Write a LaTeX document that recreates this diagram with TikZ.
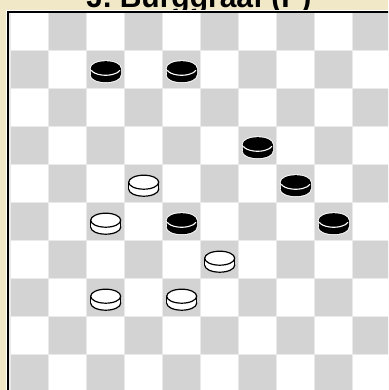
\documentclass[tikz,border=0pt]{standalone}
\usepackage{fontspec}
\setmainfont{Liberation Sans}
\definecolor{bgcream}{RGB}{240,232,198}
\definecolor{sqdark}{RGB}{211,211,211}
\definecolor{gridln}{RGB}{234,234,234}
\tikzset{
  sqlight/.style={fill=white},
  sqgray/.style={fill=sqdark},
  wpiece/.pic={
    \filldraw[fill=white,draw=black,line width=1.2] (0,5.5) ellipse[x radius=15,y radius=7];
    \fill[white] (-15,-1.5) rectangle (15,5.5);
    \draw[black,line width=1.2] (-15,-1.5) -- (-15,5.5) (15,-1.5) -- (15,5.5);
    \filldraw[fill=white,draw=black,line width=1.2] (0,-1.5) ellipse[x radius=15,y radius=7];
  },
  bpiece/.pic={
    \draw[white,line width=1.8] (0,5.5) ellipse[x radius=15,y radius=7] (0,-1.5) ellipse[x radius=15,y radius=7];
    \fill[black] (0,5.5) ellipse[x radius=15,y radius=7];
    \fill[black] (-15,-1.5) rectangle (15,5.5);
    \fill[black] (0,-1.5) ellipse[x radius=15,y radius=7];
    \draw[white,line width=1.1] (14.3,0.6) arc[start angle=17,end angle=163,x radius=15,y radius=7];
  }
}
\begin{document}
\begin{tikzpicture}[x=1pt,y=-1pt]
\useasboundingbox (0,0) rectangle (388,390);
\clip (0,0) rectangle (388,390);
\fill[bgcream] (0,0) rectangle (388,390);
% title
\node[anchor=base,inner sep=0pt,font=\bfseries\fontsize{30}{36}\selectfont] (title) at (199,8) {J. Burggraaf (P)};
% board
\fill[white] (6,9.8) rectangle (400,400);
\fill[gridln] (9,12.4) rectangle (400,400);
\draw[black,line width=2] (8,400) -- (8,11.6) -- (400,11.6);
\foreach \r in {0,...,9}{
  \foreach \c in {0,...,9}{
    \pgfmathtruncatemacro\s{\r+\c}
    \ifodd\s
      \fill[sqgray] ({10.7+38*\c+0.5},{12.7+38*\r+0.5}) rectangle ++(37,37);
    \else
      \fill[sqlight] ({10.7+38*\c+0.5},{12.7+38*\r+0.5}) rectangle ++(37,37);
    \fi
  }
}
% black pieces
\foreach \c/\r in {2/1,4/1,6/3,7/4,8/5,4/5}{
  \pic at ({29.7+38*\c},{31.7+38*\r}) {bpiece};
}
% white pieces
\foreach \c/\r in {3/4,2/5,5/6,2/7,4/7}{
  \pic at ({29.7+38*\c},{31.7+38*\r}) {wpiece};
}
\end{tikzpicture}
\end{document}
